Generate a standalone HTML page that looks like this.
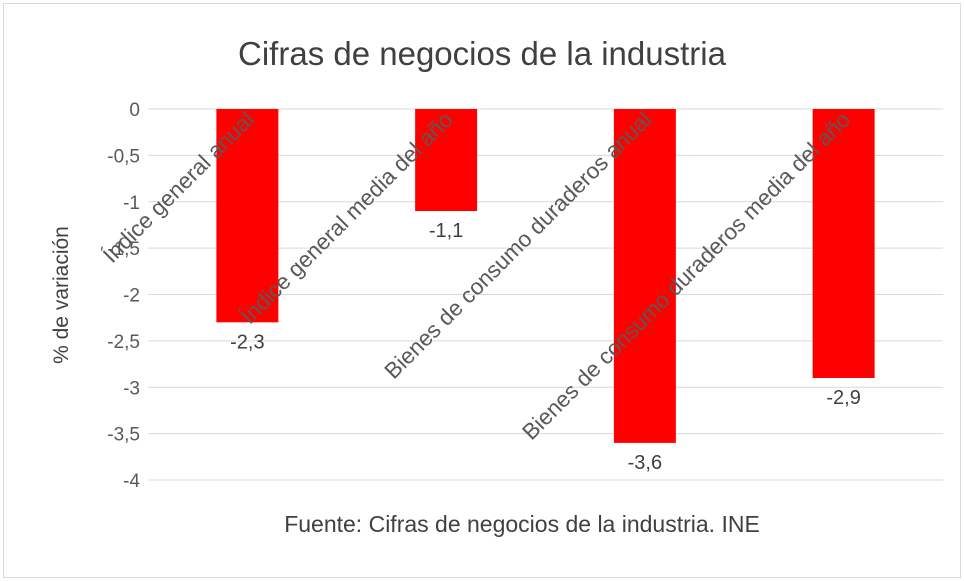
<!DOCTYPE html>
<html><head><meta charset="utf-8"><style>
body{margin:0;background:#fff;}
svg{display:block;font-family:"Liberation Sans",sans-serif;}
</style></head><body>
<svg id="chart" width="964" height="581">
<rect x="3.5" y="3.5" width="957" height="574" fill="#fff" stroke="#d9d9d9"/>
<text x="482" y="65" text-anchor="middle" font-size="33" fill="#404040">Cifras de negocios de la industria</text>
<text transform="translate(68,295) rotate(-90)" text-anchor="middle" font-size="21" fill="#404040">% de variación</text>
<text x="522" y="532" text-anchor="middle" font-size="23" fill="#404040">Fuente: Cifras de negocios de la industria. INE</text>
<g id="grid"></g><g id="bars"></g><g id="labels"></g>
</svg>
<script>
const categories=["Índice general anual","Índice general media del año","Bienes de consumo duraderos anual","Bienes de consumo duraderos media del año"];
const values=[-2.3,-1.1,-3.6,-2.9];
const valueLabels=["-2,3","-1,1","-3,6","-2,9"];
const ticks=[0,-0.5,-1,-1.5,-2,-2.5,-3,-3.5,-4];
const tickLabels=["0","-0,5","-1","-1,5","-2","-2,5","-3","-3,5","-4"];
const NS="http://www.w3.org/2000/svg";
const x0=148,x1=943,yTop=109,yBot=480;
const y=v=>yTop+(0-v)/4*(yBot-yTop);
const bw=(x1-x0)/categories.length;
const cx=i=>x0+bw*(i+0.5);
function mk(t,a,p){const e=document.createElementNS(NS,t);for(const k in a)e.setAttribute(k,a[k]);document.getElementById(p).appendChild(e);return e;}
ticks.forEach((t,i)=>{
 const l=mk('line',{x1:x0,x2:x1,y1:y(t),y2:y(t),stroke:'#d9d9d9','stroke-width':1},'grid');
 
 
 const tx=mk('text',{x:140,y:y(t)+7,'text-anchor':'end','font-size':19,fill:'#595959'},'grid');
 tx.textContent=tickLabels[i];
 
 
});
values.forEach((v,i)=>{
 const r=mk('rect',{x:cx(i)-31,y:y(0),width:62,height:y(v)-y(0),fill:'#ff0000'},'bars');
 
 
 const t=mk('text',{x:cx(i),y:y(v)+26,'text-anchor':'middle','font-size':20,fill:'#404040'},'labels');
 t.textContent=valueLabels[i];
 
 
 const c=mk('text',{transform:`translate(${cx(i)+8},${y(0)+12}) rotate(-45)`,'text-anchor':'end','font-size':22.5,fill:'#595959'},'labels');
 c.textContent=categories[i];
 
 
});
</script>
</body></html>
